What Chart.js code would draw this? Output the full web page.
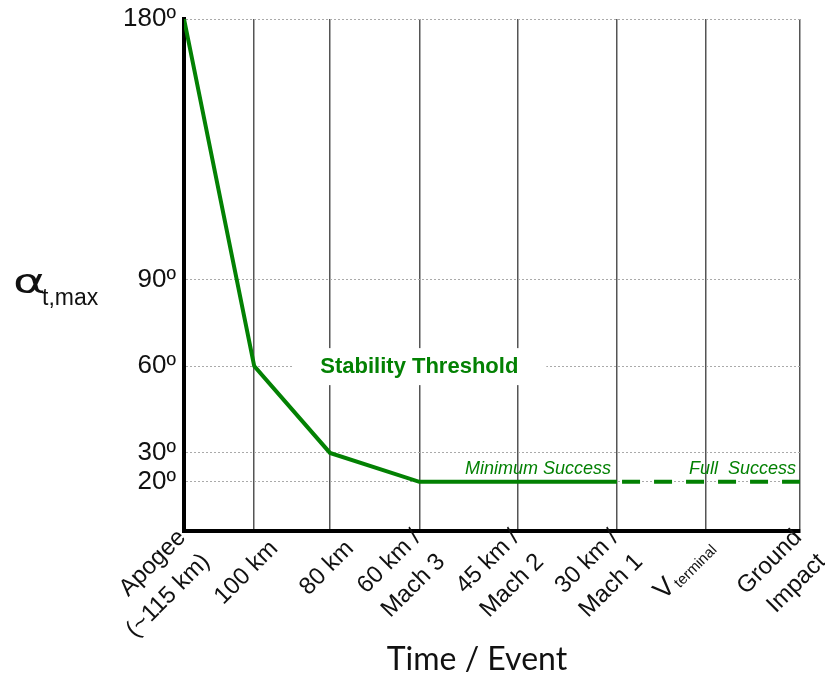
<!DOCTYPE html>
<html>
<head>
<meta charset="utf-8">
<script src="https://cdn.jsdelivr.net/npm/chart.js@4.4.1/dist/chart.umd.min.js"></script>
<style>
  body { margin: 0; background: #fff; }
  canvas { display: block; }
</style>
</head>
<body>
<canvas id="myChart" width="825" height="676"></canvas>
<script>
'use strict';

// events along the x axis (positions are not evenly spaced in the original)
let eventLabels = [
    ['Apogee', '(~115 km)'],
    ['100 km'],
    ['80 km'],
    ['60 km /', 'Mach 3'],
    ['45 km /', 'Mach 2'],
    ['30 km /', 'Mach 1'],
    ['V_terminal'],
    ['Ground', 'Impact']
];
let eventPos = [0, 11.4, 23.7, 38.2, 54.2, 70.3, 84.7, 100];

// max total angle of attack (degrees) at each event
let alphaMax = [180, 60, 30, 20, 20, 20, 20, 20];

let yTicks = [20, 30, 60, 90, 180];
let dashedFrom = 5; // full success part, after 30 km / Mach 1

let green = '#038103';
let labelFont = '24px "Liberation Sans", Arial';
let points = [];
for (let i = 0; i < eventPos.length; i++) {
    points.push({ x: eventPos[i], y: alphaMax[i] });
}

// titles, notes and rotated event labels
let textPlugin = {
    id: 'texts',
    beforeDatasetsDraw(chart) {
        let ctx = chart.ctx;
        let xs = chart.scales.x;
        let ys = chart.scales.y;
        let cx = xs.getPixelForValue(eventPos[3]);
        let cy = ys.getPixelForValue(60);
        ctx.save();
        ctx.fillStyle = '#fff';
        ctx.fillRect(cx - 126, cy - 18, 253, 37);
        ctx.fillStyle = green;
        ctx.font = 'bold 22px "Liberation Sans", Arial';
        ctx.textAlign = 'center';
        ctx.textBaseline = 'middle';
        ctx.fillText('Stability Threshold', cx, cy + 1);
        ctx.restore();
    },
    afterDraw(chart) {
        let ctx = chart.ctx;
        let xs = chart.scales.x;
        let ys = chart.scales.y;
        let area = chart.chartArea;
        ctx.save();

        // success notes above the 20º line
        let y20 = ys.getPixelForValue(20);
        ctx.fillStyle = green;
        ctx.font = 'italic 18px "Liberation Sans", Arial';
        ctx.textAlign = 'right';
        ctx.textBaseline = 'alphabetic';
        ctx.fillText('Minimum Success', xs.getPixelForValue(eventPos[5]) - 6, y20 - 8);
        ctx.fillText('Full  Success', area.right - 4, y20 - 8);

        // y title
        ctx.fillStyle = '#111';
        ctx.textAlign = 'left';
        ctx.save();
        ctx.translate(13, 293);
        ctx.scale(1.5, 1);
        ctx.font = '33px "DejaVu Sans", sans-serif';
        ctx.fillText('\u03B1', 0, 0);
        ctx.restore();
        ctx.font = '23px "Liberation Sans", Arial';
        ctx.fillText('t,max', 42, 305);

        // x title
        ctx.textAlign = 'center';
        ctx.font = '32px Lato, "Open Sans", sans-serif';
        ctx.fillText('Time / Event', 477, 670);

        // event labels
        let angle = 45 * Math.PI / 180;
        let lh = 34;
        for (let i = 0; i < eventLabels.length; i++) {
            let lines = eventLabels[i];
            let px = xs.getPixelForValue(eventPos[i]);
            ctx.save();
            ctx.textAlign = 'right';
            ctx.textBaseline = 'middle';
            let parts = lines[0].split('_');
            if (parts.length > 1) {
                ctx.translate(px + 6, area.bottom + 14);
                ctx.rotate(-angle);
                ctx.font = '15px "Liberation Sans", Arial';
                ctx.fillText(parts[1], 0, 4);
                let w = ctx.measureText(parts[1]).width;
                ctx.font = '27px "Liberation Sans", Arial';
                ctx.fillText(parts[0], -w - 2, -2);
            } else if (lines.length === 1) {
                ctx.translate(px + 20, area.bottom + 14);
                ctx.rotate(-angle);
                ctx.font = labelFont;
                ctx.fillText(lines[0], 0, 0);
            } else {
                ctx.translate(px + 10, area.bottom + 15);
                ctx.rotate(-angle);
                ctx.font = labelFont;
                for (let j = 0; j < lines.length; j++) {
                    ctx.fillText(lines[j], 0, (j - (lines.length - 1) / 2) * lh);
                }
            }
            ctx.restore();
        }
        ctx.restore();
    }
};

let ctx = document.getElementById('myChart').getContext('2d');
let chart = new Chart(ctx, {
    type: 'line',
    data: {
        datasets: [{
            data: points,
            borderColor: green,
            borderWidth: 4,
            pointRadius: 0,
            tension: 0,
            segment: {
                borderDash: c => c.p0DataIndex >= dashedFrom ? [18, 14] : undefined,
                borderDashOffset: c => c.p0DataIndex >= dashedFrom ? 27 : 0
            }
        }]
    },
    options: {
        responsive: false,
        animation: false,
        layout: { padding: { left: 0, right: 25, top: 19, bottom: 145 } },
        plugins: {
            legend: { display: false },
            tooltip: { enabled: false }
        },
        scales: {
            x: {
                type: 'linear',
                min: 0,
                max: 100,
                afterBuildTicks: scale => {
                    scale.ticks = eventPos.map(v => ({ value: v }));
                },
                afterFit: scale => { scale.height = 0; },
                ticks: { display: false },
                grid: { color: '#555', lineWidth: 1.5, drawTicks: false },
                border: { display: true, color: '#000', width: 4 }
            },
            y: {
                type: 'linear',
                min: 3,
                max: 180,
                afterBuildTicks: scale => {
                    scale.ticks = yTicks.map(v => ({ value: v }));
                },
                afterFit: scale => {
                    scale.width = 184;
                    scale.paddingTop = 0;
                    scale.paddingBottom = 0;
                },
                ticks: {
                    color: '#111',
                    padding: 8,
                    font: { family: '"Liberation Sans", Arial', size: 26 },
                    callback: v => v + '\u00BA'
                },
                grid: { color: '#aaa', lineWidth: 1, drawTicks: false },
                border: { display: true, color: '#000', width: 4, dash: [2, 2] }
            }
        }
    },
    plugins: [textPlugin]
});
</script>
</body>
</html>
